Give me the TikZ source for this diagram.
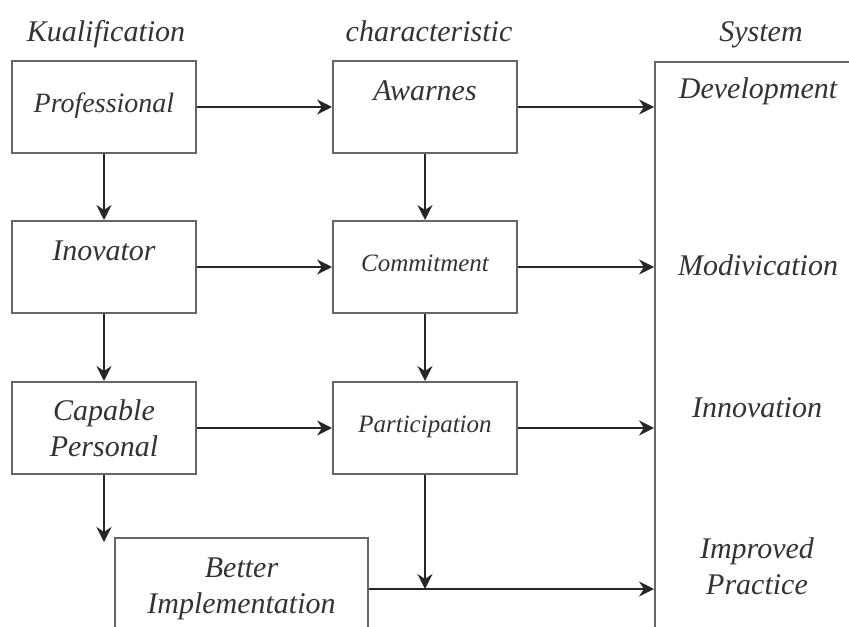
\documentclass[tikz,border=0pt]{standalone}
\usepackage{fontspec}
\setmainfont{Liberation Serif}
\usetikzlibrary{arrows.meta}
\begin{document}
\begin{tikzpicture}[x=0.5pt, y=-0.5pt, >={Stealth[length=7.5pt,width=7.5pt,inset=2.5pt]},
  box/.style={draw=black!60, line width=1pt, minimum width=92pt, minimum height=46pt, inner sep=0pt, align=center, text=black!80, font=\fontsize{15}{18}\selectfont\itshape},
  lift/.style={text height=10pt, text depth=#1},
  head/.style={anchor=base, text=black!80, font=\fontsize{15}{18}\selectfont\itshape},
  link/.style={->, draw=black!85, line width=1.1pt}]
  \useasboundingbox (0,0) rectangle (849,626);
  \clip (0,0) rectangle (849,626);
  \node[head] (kual) at (106,42) {Kualification};
  \node[head] (charac) at (429,42) {characteristic};
  \node[head] (system) at (761,42) {System};
  \node[box, lift=4.7pt, font=\fontsize{14}{17}\selectfont\itshape] (prof) at (104,107) {Professional};
  \node[box, lift=17pt] (inov) at (104,267) {Inovator};
  \node[box] (capable) at (104,428) {Capable\\Personal};
  \node[box, lift=17pt] (awarnes) at (425,107) {Awarnes};
  \node[box, lift=5.7pt, font=\fontsize{12.5}{15}\selectfont\itshape] (commit) at (425,267) {Commitment};
  \node[box, lift=6pt, font=\fontsize{12.5}{15}\selectfont\itshape] (partic) at (425,428) {Participation};
  \node[box, minimum width=126.5pt, minimum height=51pt] (better) at (241.5,589) {Better\\Implementation};
  \node[draw=black!60, line width=1pt, minimum width=150pt, minimum height=320pt, anchor=north west] (sys) at (654,61) {};
  \node[head] (devel) at (758,98) {Development};
  \node[head] (modiv) at (758,275) {Modivication};
  \node[head] (innov) at (757,417) {Innovation};
  \node[head, anchor=center, align=center] (improved) at (757,566) {Improved\\Practice};
  \coordinate (persend) at (104,542);
  \coordinate (join) at (partic.south |- better.east);
  \draw[link] (prof) -- (inov);
  \draw[link] (inov) -- (capable);
  \draw[link] (capable) -- (persend);
  \draw[link] (awarnes) -- (commit);
  \draw[link] (commit) -- (partic);
  \draw[link] (partic.south) -- (join);
  \draw[link] (prof) -- (awarnes);
  \draw[link] (inov) -- (commit);
  \draw[link] (capable) -- (partic);
  \draw[link] (awarnes) -- (awarnes -| sys.west);
  \draw[link] (commit) -- (commit -| sys.west);
  \draw[link] (partic) -- (partic -| sys.west);
  \draw[link] (better) -- (better -| sys.west);
\end{tikzpicture}
\end{document}
